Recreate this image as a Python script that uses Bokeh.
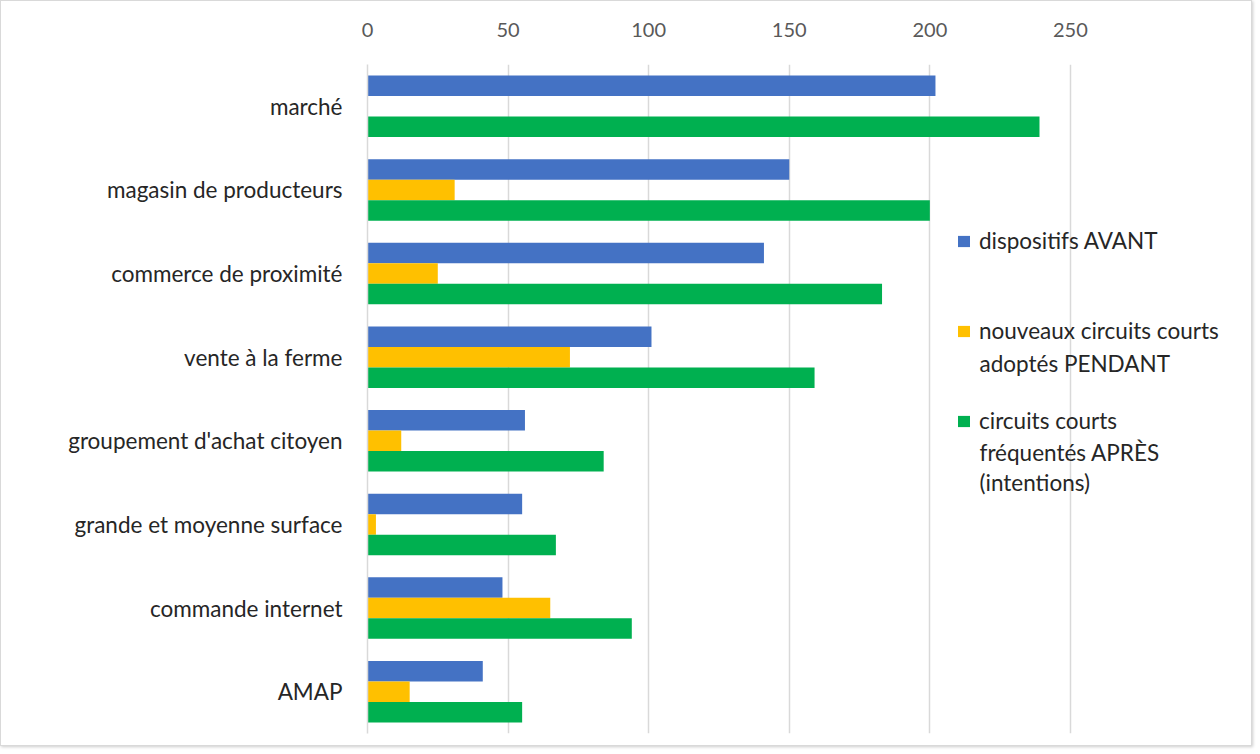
from bokeh.plotting import figure
from bokeh.models import FactorRange, Legend, LegendItem, Label, ColumnDataSource, FixedTicker
from bokeh.transform import dodge
from bokeh.embed import file_html
from bokeh.resources import INLINE

categories = ["marché", "magasin de producteurs", "commerce de proximité", "vente à la ferme",
              "groupement d'achat citoyen", "grande et moyenne surface", "commande internet", "AMAP"]
avant = [202, 150, 141, 101, 56, 55, 48, 41]
pendant = [0, 31, 25, 72, 12, 3, 65, 15]
apres = [239, 200, 183, 159, 84, 67, 94, 55]
ticks = [0, 50, 100, 150, 200, 250]
series_labels = ["dispositifs AVANT", "nouveaux circuits courts", "circuits courts"]
extra_lines = [[], ["adoptés PENDANT"], ["fréquentés APRÈS", "(intentions)"]]
colors = ["#4472C4", "#FFC000", "#00B050"]

FONT = "Lato"

src = ColumnDataSource(dict(cat=categories, avant=avant, pendant=pendant, apres=apres))

p = figure(width=1252, height=746, output_backend="svg", toolbar_location=None,
           y_range=FactorRange(factors=list(reversed(categories)), range_padding=0),
           x_range=(0, 314.4), x_axis_location="above",
           min_border_left=366, min_border_right=2, min_border_top=63, min_border_bottom=14,
           styles={"border": "1px solid #d9d9d9", "box-shadow": "1px 1px 3px #cccccc"})

bh = 0.245
r1 = p.hbar(y=dodge("cat", bh, range=p.y_range), right="avant", left=0, height=bh, source=src,
            color=colors[0], line_color=None)
r2 = p.hbar(y=dodge("cat", 0, range=p.y_range), right="pendant", left=0, height=bh, source=src,
            color=colors[1], line_color=None)
r3 = p.hbar(y=dodge("cat", -bh, range=p.y_range), right="apres", left=0, height=bh, source=src,
            color=colors[2], line_color=None)

p.outline_line_color = None
p.ygrid.grid_line_color = None
p.xgrid.grid_line_color = "#d9d9d9"
p.xgrid.grid_line_width = 1.5
p.xaxis.ticker = FixedTicker(ticks=ticks)
p.xaxis.axis_line_color = None
p.xaxis.major_tick_line_color = None
p.xaxis.minor_tick_line_color = None
p.xaxis.major_label_text_font = FONT
p.xaxis.major_label_text_font_size = "20px"
p.xaxis.major_label_text_color = "#595959"
p.xaxis.major_label_standoff = 22

p.yaxis.axis_line_color = "#d9d9d9"
p.yaxis.axis_line_width = 1.5
p.yaxis.major_tick_line_color = None
p.yaxis.minor_tick_line_color = None
p.yaxis.major_label_text_font = FONT
p.yaxis.major_label_text_font_size = "22.5px"
p.yaxis.major_label_text_color = "#262626"
p.yaxis.major_label_standoff = 19

legend = Legend(items=[LegendItem(label=series_labels[0], renderers=[r1]),
                       LegendItem(label=series_labels[1], renderers=[r2]),
                       LegendItem(label=series_labels[2], renderers=[r3])],
                location=(589, 299), orientation="vertical",
                background_fill_alpha=0, border_line_color=None,
                padding=0, margin=0, spacing=63, label_height=24,
                glyph_width=15, glyph_height=14, label_standoff=8,
                label_text_font=FONT, label_text_font_size="22.5px", label_text_color="#262626")
p.add_layout(legend, "center")

# continuation lines of the multi-line legend labels
line_y = {1: [732 - 362], 2: [732 - 451, 732 - 481]}
for i, lines in enumerate(extra_lines):
    for j, t in enumerate(lines):
        p.add_layout(Label(x=612, y=line_y[i][j], x_units="screen", y_units="screen", text=t,
                           text_font=FONT, text_font_size="22.5px", text_color="#262626",
                           text_baseline="middle"))

open("out.html", "w").write(file_html(p, INLINE))
